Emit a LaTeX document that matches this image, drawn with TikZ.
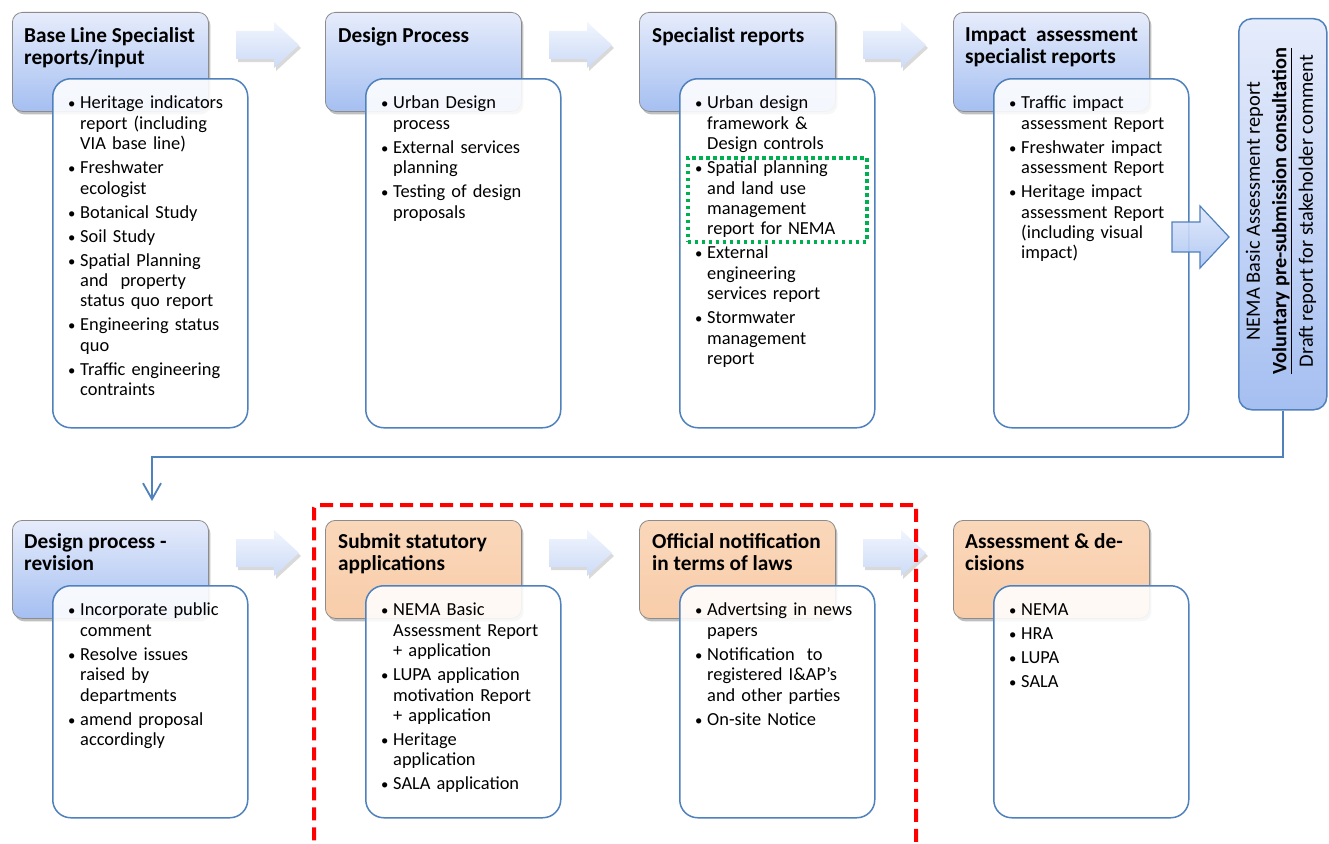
\documentclass[tikz,border=0pt]{standalone}
\usepackage{fontspec}
\setmainfont{Carlito}
\usetikzlibrary{shadows,arrows.meta}
\definecolor{hdrtop}{RGB}{230,236,251}
\definecolor{hdrbot}{RGB}{165,191,241}
\definecolor{orgtop}{RGB}{250,215,186}
\definecolor{orgbot}{RGB}{248,205,170}
\definecolor{bblue}{RGB}{79,129,189}
\definecolor{arrtop}{RGB}{241,245,253}
\definecolor{arrbot}{RGB}{204,219,247}
\definecolor{bigtop}{RGB}{224,232,251}
\definecolor{bigbot}{RGB}{170,196,243}
\definecolor{grn}{RGB}{0,176,80}
\definecolor{redd}{RGB}{255,0,0}
\newcommand\bi[1]{\hangindent=12pt\hangafter=1\noindent\makebox[12pt][l]{\scalebox{0.8}{\textbullet}}{\let\\\newline#1}\par}
\newcommand\bn[1]{\vskip3.6pt\bi{#1}}
\newcommand\smarrow[2]{\path[smarr] (#1,#2+9) -- ++(38,0) -- ++(0,-9) -- ++(25,23) -- ++(-25,23) -- ++(0,-9) -- ++(-38,0) -- cycle;}
\begin{document}
\begin{tikzpicture}[x=1pt,y=-1pt,
  hdr/.style={draw=black!45, line width=0.8pt, rounded corners=10pt, top color=hdrtop, bottom color=hdrbot,
    drop shadow={shadow xshift=2pt, shadow yshift=-3pt, opacity=0.25, fill=black},
    minimum width=196pt, anchor=north west, inner sep=0pt},
  hdro/.style={hdr, top color=orgtop, bottom color=orgbot},
  det/.style={draw=bblue, line width=1.5pt, rounded corners=18pt, fill=white, fill opacity=0.88,
    minimum width=195pt, anchor=north west, inner sep=0pt},
  htxt/.style={anchor=north west, inner sep=0pt, align=left, font=\fontsize{21.3}{22.8}\selectfont\bfseries},
  dtxt/.style={anchor=north west, inner sep=0pt, text width=178pt, font=\fontsize{18.4}{20.4}\selectfont},
  smarr/.style={top color=arrtop, bottom color=arrbot, drop shadow={shadow xshift=2pt, shadow yshift=-3pt, opacity=0.15, fill=black}},
  bigarr/.style={draw=bblue, line width=1.2pt, top color=bigtop, bottom color=bigbot, fill opacity=0.9},
  conn/.style={draw=bblue, line width=1.8pt, -{Straight Barb[length=16pt,width=18pt,line width=1.8pt]}},
  grnbox/.style={draw=grn, line width=3.5pt, dash pattern=on 3.5pt off 3.5pt, anchor=north west, inner sep=0pt},
  redbox/.style={draw=redd, line width=4pt, dash pattern=on 13pt off 7pt, rounded corners=3pt, anchor=north west, inner sep=0pt}
]
\useasboundingbox (0,0) rectangle (1329,843);
\fill[white] (0,0) rectangle (1329,843);

% block arrows
\smarrow{236}{22}
\smarrow{549}{22}
\smarrow{863}{22}
\smarrow{236}{530}
\smarrow{549}{530}
\smarrow{863}{530}

% top row
\node[hdr, minimum height=99pt] (h1) at (12,12) {};
\node[hdr, minimum height=99pt] (h2) at (325,12) {};
\node[hdr, minimum height=99pt] (h3) at (639,12) {};
\node[hdr, minimum height=99pt] (h4) at (953,12) {};
\node[htxt] (h1t) at (24,27) {Base Line Specialist\\reports/input};
\node[htxt] (h2t) at (338,27) {Design Process};
\node[htxt] (h3t) at (652,27) {Specialist reports};
\node[htxt] (h4t) at (965,27) {Impact\ \ assessment\\specialist reports};

\node[det, minimum height=349pt] (d1) at (52,78) {};
\node[det, minimum height=349pt] (d2) at (365,78) {};
\node[det, minimum height=349pt] (d3) at (679,78) {};
\node[det, minimum height=349pt] (d4) at (993,78) {};

\node[dtxt] (d1t) at (68,96) {\bi{Heritage indicators\\report (including\\VIA base line)}\bn{Freshwater\\ecologist}\bn{Botanical Study}\bn{Soil Study}\bn{Spatial Planning\\and\ \ property\\status quo report}\bn{Engineering status\\quo}\bn{Traffic engineering\\contraints}};
\node[dtxt] (d2t) at (381,96) {\bi{Urban Design\\process}\bn{External services\\planning}\bn{Testing of design\\proposals}};
\node[dtxt] (d3t) at (695,96) {\bi{Urban design\\framework \&\\Design controls}\bn{Spatial planning\\and land use\\management\\report for NEMA}\bn{External\\engineering\\services report}\bn{Stormwater\\management\\report}};
\node[dtxt] (d4t) at (1009,96) {\bi{Traffic impact\\assessment Report}\bn{Freshwater impact\\assessment Report}\bn{Heritage impact\\assessment Report\\(including visual\\impact)}};

\node[grnbox, minimum width=179pt, minimum height=84pt] (hl) at (686,156) {};

% right tall box
\node[draw=bblue, line width=1.5pt, rounded corners=13pt, top color=hdrtop, bottom color=hdrbot,
  minimum width=88pt, minimum height=391pt, anchor=north west, inner sep=0pt] (nb) at (1238,18) {};
\node[rotate=90, align=center, inner sep=0pt, font=\fontsize{20.4}{26.5}\selectfont] (nbt) at (1281,211)
  {NEMA Basic Assessment report\\\textbf{\underline{Voluntary pre-submission consultation}}\\Draft report for stakeholder comment};

\path[bigarr] (1172,222) -- (1200,222) -- (1200,206) -- (1229,237) -- (1200,268) -- (1200,252) -- (1172,252) -- cycle;

% bottom row
\node[hdr, minimum height=98pt] (h5) at (12,520) {};
\node[hdro, minimum height=98pt] (h6) at (325,520) {};
\node[hdro, minimum height=98pt] (h7) at (639,520) {};
\node[hdro, minimum height=98pt] (h8) at (953,520) {};
\node[htxt] (h5t) at (24,533) {Design process -\\revision};
\node[htxt] (h6t) at (338,533) {Submit statutory\\applications};
\node[htxt] (h7t) at (652,533) {Official notification\\in terms of laws};
\node[htxt] (h8t) at (965,533) {Assessment \& de-\\cisions};

\node[det, minimum height=232pt] (d5) at (52,585) {};
\node[det, minimum height=232pt] (d6) at (365,585) {};
\node[det, minimum height=232pt] (d7) at (679,585) {};
\node[det, minimum height=232pt] (d8) at (993,585) {};

\node[dtxt] (d5t) at (68,603) {\bi{Incorporate public\\comment}\bn{Resolve issues\\raised by\\departments}\bn{amend proposal\\accordingly}};
\node[dtxt] (d6t) at (381,603) {\bi{NEMA Basic\\Assessment Report\\+ application}\bn{LUPA application\\motivation Report\\+ application}\bn{Heritage\\application}\bn{SALA application}};
\node[dtxt] (d7t) at (695,603) {\bi{Advertsing in news\\papers}\bn{Notification\ \ to\\registered I\&AP's\\and other parties}\bn{On-site Notice}};
\node[dtxt] (d8t) at (1009,603) {\bi{NEMA}\bn{HRA}\bn{LUPA}\bn{SALA}};

% connector
\coordinate (turn) at (152,457);
\coordinate (cend) at (152,501);
\draw[conn] (nb.south) -- (nb.south |- turn) -- (turn) -- (cend);

% red group
\node[redbox, minimum width=602pt, minimum height=380pt] (grp) at (312,503) {};
\end{tikzpicture}
\end{document}
